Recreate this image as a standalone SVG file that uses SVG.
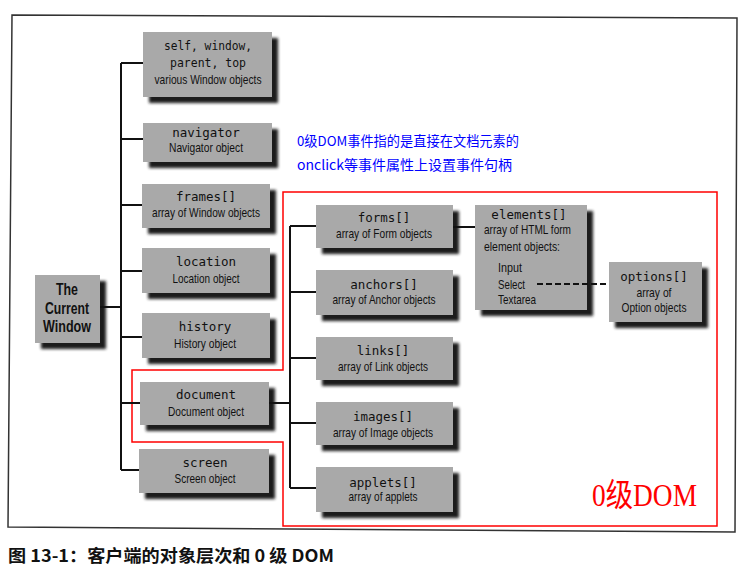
<svg xmlns="http://www.w3.org/2000/svg" width="748" height="574" viewBox="0 0 748 574">
<defs>
<filter id="blur" x="-10%" y="-10%" width="120%" height="130%"><feGaussianBlur stdDeviation="1.4"/></filter>
</defs>
<style>
.box{fill:#a9a9a9;}
.shadow{fill:#1c1c1c;filter:url(#blur);}
.name{font-family:"DejaVu Sans Mono","Liberation Mono",monospace;font-size:12.5px;fill:#111;text-anchor:middle;}
.sub{font-family:"Liberation Sans",Arial,sans-serif;font-size:13.5px;fill:#111;text-anchor:middle;}
.subl{font-family:"Liberation Sans",Arial,sans-serif;font-size:13.5px;fill:#111;}
.cw{font-family:"Liberation Sans",Arial,sans-serif;font-size:17px;font-weight:bold;fill:#111;text-anchor:middle;}
.conn{stroke:#111;stroke-width:2;fill:none;}
.dash{stroke:#111;stroke-width:2;fill:none;stroke-dasharray:6 3;}
.blue{font-family:"Noto Sans CJK SC",sans-serif;font-size:13.5px;fill:#0000ff;}
</style>
<rect width="748" height="574" fill="#ffffff"/>
<polygon points="12,15 737,18 735,532 8,527" fill="none" stroke="#333" stroke-width="1.5"/>
<polygon points="283,192 717,192 717,526 283,526 283,442 132,442 132,370 283,370" fill="none" stroke="#ff0000" stroke-width="1.5"/>

<g id="current-window">
<rect class="shadow" x="41" y="281" width="65" height="68"/>
<rect class="box" x="35" y="275" width="65" height="68"/>
<text class="cw" x="67" y="295" textLength="22" lengthAdjust="spacingAndGlyphs">The</text>
<text class="cw" x="67" y="314" textLength="44" lengthAdjust="spacingAndGlyphs">Current</text>
<text class="cw" x="67" y="332" textLength="48" lengthAdjust="spacingAndGlyphs">Window</text>
</g>

<g id="self-window">
<rect class="shadow" x="149" y="38" width="129" height="65"/>
<rect class="box" x="143" y="32" width="129" height="65"/>
<text class="name" x="208" y="50" textLength="88" lengthAdjust="spacingAndGlyphs">self, window,</text>
<text class="name" x="208" y="67" textLength="76" lengthAdjust="spacingAndGlyphs">parent, top</text>
<text class="sub" x="208" y="84" textLength="107" lengthAdjust="spacingAndGlyphs">various Window objects</text>
</g>

<g id="navigator">
<rect class="shadow" x="149" y="129" width="129" height="39"/>
<rect class="box" x="143" y="123" width="129" height="39"/>
<text class="name" x="206" y="137">navigator</text>
<text class="sub" x="206" y="152" textLength="74" lengthAdjust="spacingAndGlyphs">Navigator object</text>
</g>

<g id="frames">
<rect class="shadow" x="148" y="190" width="128" height="44"/>
<rect class="box" x="142" y="184" width="128" height="44"/>
<text class="name" x="206" y="201">frames[]</text>
<text class="sub" x="206" y="217" textLength="108" lengthAdjust="spacingAndGlyphs">array of Window objects</text>
</g>

<g id="location">
<rect class="shadow" x="148" y="254" width="128" height="45"/>
<rect class="box" x="142" y="248" width="128" height="45"/>
<text class="name" x="206" y="266">location</text>
<text class="sub" x="206" y="283" textLength="67" lengthAdjust="spacingAndGlyphs">Location object</text>
</g>

<g id="history">
<rect class="shadow" x="148" y="319" width="128" height="45"/>
<rect class="box" x="142" y="313" width="128" height="45"/>
<text class="name" x="205" y="331">history</text>
<text class="sub" x="205" y="348" textLength="62" lengthAdjust="spacingAndGlyphs">History object</text>
</g>

<g id="document">
<rect class="shadow" x="146" y="388" width="129" height="43"/>
<rect class="box" x="140" y="382" width="129" height="43"/>
<text class="name" x="206" y="399">document</text>
<text class="sub" x="206" y="416" textLength="76" lengthAdjust="spacingAndGlyphs">Document object</text>
</g>

<g id="screen">
<rect class="shadow" x="145" y="455" width="130" height="44"/>
<rect class="box" x="139" y="449" width="130" height="44"/>
<text class="name" x="205" y="467">screen</text>
<text class="sub" x="205" y="483" textLength="61" lengthAdjust="spacingAndGlyphs">Screen object</text>
</g>

<g id="forms">
<rect class="shadow" x="322" y="211" width="137" height="43"/>
<rect class="box" x="316" y="205" width="137" height="43"/>
<text class="name" x="384" y="222">forms[]</text>
<text class="sub" x="384" y="238" textLength="96" lengthAdjust="spacingAndGlyphs">array of Form objects</text>
</g>

<g id="anchors">
<rect class="shadow" x="322" y="276" width="137" height="45"/>
<rect class="box" x="316" y="270" width="137" height="45"/>
<text class="name" x="384" y="289">anchors[]</text>
<text class="sub" x="384" y="304" textLength="103" lengthAdjust="spacingAndGlyphs">array of Anchor objects</text>
</g>

<g id="links">
<rect class="shadow" x="322" y="343" width="137" height="43"/>
<rect class="box" x="316" y="337" width="137" height="43"/>
<text class="name" x="383" y="355">links[]</text>
<text class="sub" x="383" y="371" textLength="90" lengthAdjust="spacingAndGlyphs">array of Link objects</text>
</g>

<g id="images">
<rect class="shadow" x="322" y="408" width="137" height="43"/>
<rect class="box" x="316" y="402" width="137" height="43"/>
<text class="name" x="383" y="421">images[]</text>
<text class="sub" x="383" y="437" textLength="100" lengthAdjust="spacingAndGlyphs">array of Image objects</text>
</g>

<g id="applets">
<rect class="shadow" x="322" y="473" width="137" height="45"/>
<rect class="box" x="316" y="467" width="137" height="45"/>
<text class="name" x="383" y="487">applets[]</text>
<text class="sub" x="383" y="501" textLength="69" lengthAdjust="spacingAndGlyphs">array of applets</text>
</g>

<g id="elements">
<rect class="shadow" x="481" y="211" width="112" height="105"/>
<rect class="box" x="475" y="205" width="112" height="105"/>
<text class="name" x="529" y="219">elements[]</text>
<text class="subl" x="484" y="234" textLength="87" lengthAdjust="spacingAndGlyphs">array of HTML form</text>
<text class="subl" x="484" y="251" textLength="76" lengthAdjust="spacingAndGlyphs">element objects:</text>
<text class="subl" x="498" y="272" textLength="24" lengthAdjust="spacingAndGlyphs">Input</text>
<text class="subl" x="498" y="289" textLength="27" lengthAdjust="spacingAndGlyphs">Select</text>
<text class="subl" x="498" y="304" textLength="38" lengthAdjust="spacingAndGlyphs">Textarea</text>
</g>

<g id="options">
<rect class="shadow" x="615" y="268" width="93" height="60"/>
<rect class="box" x="609" y="262" width="93" height="60"/>
<text class="name" x="654" y="281">options[]</text>
<text class="sub" x="654" y="297" textLength="35" lengthAdjust="spacingAndGlyphs">array of</text>
<text class="sub" x="654" y="312" textLength="65" lengthAdjust="spacingAndGlyphs">Option objects</text>
</g>

<g id="connectors">
<path class="conn" d="M121,63 V470 M121,63 H143 M121,139 H143 M121,205 H142 M121,271 H142 M121,337 H142 M121,403 H140 M121,470 H139 M100,307 H121"/>
<path class="conn" d="M290,226 V488 M290,226 H316 M290,292 H316 M290,358 H316 M290,423 H316 M290,488 H316 M269,403 H290"/>
<path class="conn" d="M453,227 H475"/>
<path class="dash" d="M537,284 H609"/>
</g>

<text class="blue" x="297" y="146" textLength="222" lengthAdjust="spacingAndGlyphs">0级DOM事件指的是直接在文档元素的</text>
<text class="blue" x="297" y="170" textLength="215" lengthAdjust="spacingAndGlyphs">onclick等事件属性上设置事件句柄</text>
<text x="592" y="506" font-family="'Liberation Serif','Noto Sans CJK SC',serif" font-size="32" fill="#ff0000" textLength="105" lengthAdjust="spacingAndGlyphs">0级DOM</text>
<text x="8" y="562" font-family="'Noto Sans CJK SC',sans-serif" font-size="17" font-weight="bold" fill="#111" textLength="326" lengthAdjust="spacingAndGlyphs">图 13-1：客户端的对象层次和 0 级 DOM</text>
</svg>
